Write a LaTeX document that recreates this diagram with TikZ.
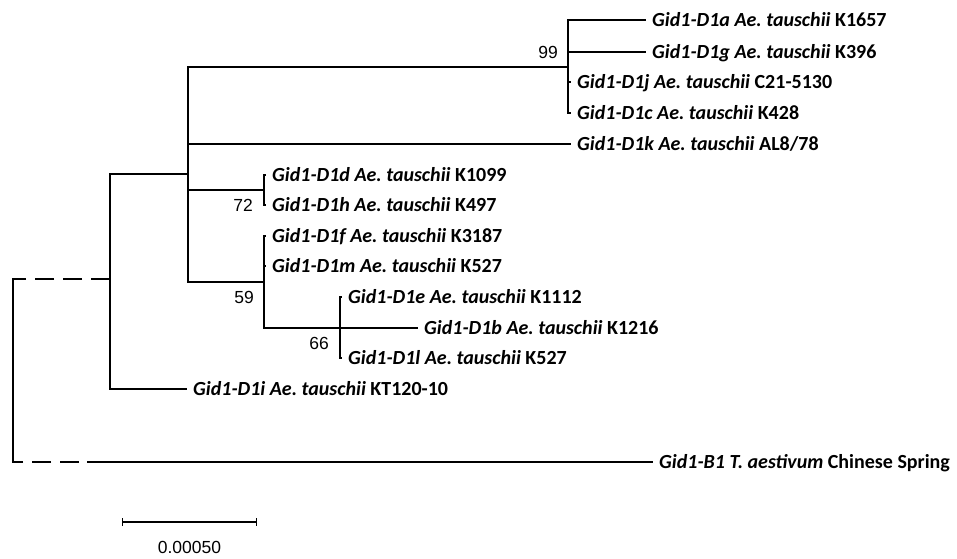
\documentclass[tikz,border=0pt]{standalone}
\usepackage{fontspec}
\setmainfont{Carlito}
\newfontfamily\bootfont{Liberation Sans}
\usetikzlibrary{positioning,arrows.meta}
\frenchspacing
\tikzset{
  branch/.style={
    line width = 1.3pt,
    line cap = rect
  },
  taxon/.style={
    anchor = west,
    inner xsep = 7pt,
    inner ysep = 0pt,
    text height = 13pt,
    text depth = 0pt,
    font = \fontsize{20}{24}\selectfont\bfseries
  },
  boot/.style={
    inner sep = 0pt,
    font = \bootfont\fontsize{17.5}{20}\selectfont
  },
  gap/.style={
    line cap = butt,
    dash pattern = on 19pt off 9pt
  }
}
\newcommand{\tx}[2]{\textit{#1} #2}

\begin{document}
\begin{tikzpicture}[x=1pt,y=-1pt]
    \useasboundingbox (0,0) rectangle (957,558);

    % inner nodes of the tree
    \coordinate (rootTop) at (13,279);
    \coordinate (rootBot) at (13,462);
    \coordinate (cut) at (88,462);
    \coordinate (nA) at (110,279);
    \coordinate (nB) at (188,174);
    \coordinate (nC) at (568,67);
    \coordinate (nD) at (264,190);
    \coordinate (nE) at (264,282);
    \coordinate (nF) at (340,328);

    % leaves
    \node[taxon] (la) at (645,20) {\tx{Gid1-D1a Ae. tauschii}{K1657}};
    \node[taxon] (lg) at (645,52) {\tx{Gid1-D1g Ae. tauschii}{K396}};
    \node[taxon] (lj) at (570,82) {\tx{Gid1-D1j Ae. tauschii}{C21-5130}};
    \node[taxon] (lc) at (570,113) {\tx{Gid1-D1c Ae. tauschii}{K428}};
    \node[taxon] (lk) at (570,144) {\tx{Gid1-D1k Ae. tauschii}{AL8/78}};
    \node[taxon] (ld) at (265,175) {\tx{Gid1-D1d Ae. tauschii}{K1099}};
    \node[taxon] (lh) at (265,205) {\tx{Gid1-D1h Ae. tauschii}{K497}};
    \node[taxon] (lf) at (265,236) {\tx{Gid1-D1f Ae. tauschii}{K3187}};
    \node[taxon] (lm) at (265,266) {\tx{Gid1-D1m Ae. tauschii}{K527}};
    \node[taxon] (le) at (341,297) {\tx{Gid1-D1e Ae. tauschii}{K1112}};
    \node[taxon] (lb) at (417,328) {\tx{Gid1-D1b Ae. tauschii}{K1216}};
    \node[taxon] (ll) at (341,358) {\tx{Gid1-D1l Ae. tauschii}{K527}};
    \node[taxon] (li) at (186,389) {\tx{Gid1-D1i Ae. tauschii}{KT120-10}};
    \node[taxon] (lB) at (652,462) {\tx{Gid1-B1 T. aestivum}{Chinese Spring}};

    % branches
    \draw[branch] (nC) |- (la.west);
    \draw[branch] (nC) |- (lg.west);
    \draw[branch] (nC) |- (lj.west);
    \draw[branch] (nC) |- (lc.west);

    \draw[branch] (nD) |- (ld.west);
    \draw[branch] (nD) |- (lh.west);

    \draw[branch] (nF) |- (le.west);
    \draw[branch] (nF) -- (lb.west);
    \draw[branch] (nF) |- (ll.west);

    \draw[branch] (nE) |- (lf.west);
    \draw[branch] (nE) |- (lm.west);
    \draw[branch] (nE) |- (nF);

    \draw[branch] (nB) |- (nC);
    \draw[branch] (nB) |- (lk.west);
    \draw[branch] (nB) |- (nD);
    \draw[branch] (nB) |- (nE);

    \draw[branch] (nA) |- (nB);
    \draw[branch] (nA) |- (li.west);

    \draw[branch] (rootTop) -- (rootBot);
    \draw[branch,gap] (nA) -- (rootTop);
    \draw[branch,gap,dash phase=19pt] (cut) -- (rootBot);
    \draw[branch] (cut) -- (lB.west);

    % bootstrap values
    \node[boot, above left=8pt and 10pt of nC] (b99) {99};
    \node[boot, below left=9pt and 11pt of nD] (b72) {72};
    \node[boot, below left=9pt and 10pt of nE] (b59) {59};
    \node[boot, below left=9pt and 11pt of nF] (b66) {66};

    % scale bar
    \coordinate (sbL) at (122,522);
    \coordinate (sbR) at (257,522);
    \draw[branch, {Bar[width=8pt]}-{Bar[width=8pt]}] (sbL) -- (sbR)
        node[boot, midway, below=19pt] (sbText) {0.00050};
\end{tikzpicture}
\end{document}
